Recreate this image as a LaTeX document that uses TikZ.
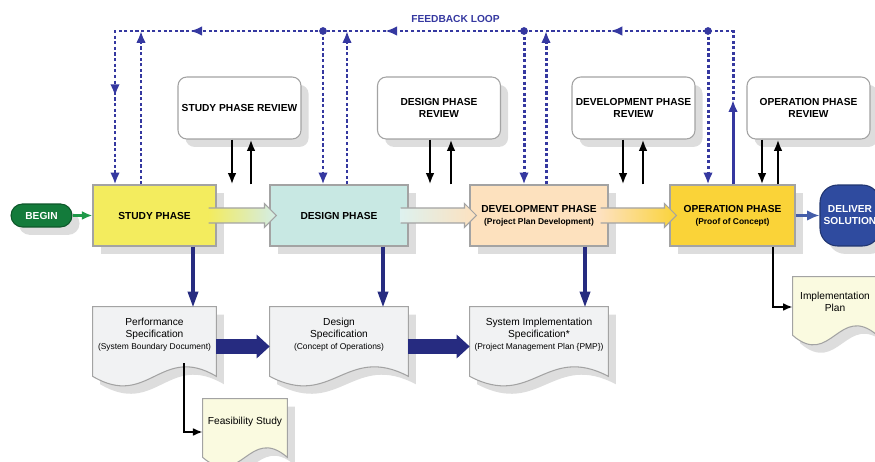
\documentclass[tikz,border=0pt]{standalone}
\usepackage{fontspec}
\setmainfont{Liberation Sans}
\usepackage{tikz}
\usetikzlibrary{
  arrows.meta,
  calc,
  backgrounds,
  shadows,
  decorations.markings
}
\definecolor{StudyYellow}{HTML}{F3EC5E}
\definecolor{DesignCyan}{HTML}{C8E8E3}
\definecolor{DevPeach}{HTML}{FDE1BE}
\definecolor{OpGold}{HTML}{FAD338}
\definecolor{BoxGray}{HTML}{A3A3A3}
\definecolor{ShadowGray}{HTML}{DDDDDD}
\definecolor{DocGray}{HTML}{F1F2F3}
\definecolor{DocYellow}{HTML}{FAFAE0}
\definecolor{LoopBlue}{HTML}{3538A0}
\definecolor{NavyBlue}{HTML}{262B80}
\definecolor{BeginGreen}{HTML}{137B3B}
\definecolor{ArrowGreen}{HTML}{1E9A48}
\definecolor{DeliverBlue}{HTML}{2F4B9F}
\newcommand{\phasefont}{\fontsize{5.8pt}{6.8pt}\selectfont\bfseries}
\newcommand{\notefont}{\fontsize{4.8pt}{6pt}\selectfont\bfseries}
\newcommand{\docfont}{\fontsize{5.8pt}{6.8pt}\selectfont}
\newcommand{\docnotefont}{\fontsize{4.8pt}{6pt}\selectfont}
% wavy sheet behind a document node: #1 node, #2 drop of the edges, #3 path options
\newcommand{\docsheet}[3]{%
  \path[#3]
  (#1.north west) --
  (#1.north east) --
  ($(#1.south east)+(0,#2)$)
  .. controls ($(#1.south east)!0.45!(#1.south west)+(0,#2-33)$)
  and ($(#1.south west)!0.45!(#1.south east)+(0,#2+33)$) ..
  ($(#1.south west)+(0,#2)$) --
  cycle;
}
% shaded block arrow from one phase into the next
\newcommand{\phasearrow}[4]{%
  \shade[left color=#3, right color=#4]
  ($(#1.east)+(-8,-7.5)$) --
  ($(#2.west)+(-5,-7.5)$) --
  ($(#2.west)+(-5,-12)$) --
  ($(#2.west)+(7,0)$) --
  ($(#2.west)+(-5,12)$) --
  ($(#2.west)+(-5,7.5)$) --
  ($(#1.east)+(-8,7.5)$) --
  cycle;
  \draw[BoxGray, line width=0.6pt]
  ($(#1.east)+(-8,-7.5)$) --
  ($(#2.west)+(-5,-7.5)$) --
  ($(#2.west)+(-5,-12)$) --
  ($(#2.west)+(7,0)$) --
  ($(#2.west)+(-5,12)$) --
  ($(#2.west)+(-5,7.5)$) --
  ($(#1.east)+(-8,7.5)$);
}
\tikzset{
  boxshadow/.style={
    drop shadow={
      shadow xshift=4.3pt,
      shadow yshift=-4.5pt,
      fill=ShadowGray,
      opacity=1
    }
  },
  phase/.style={
    draw=BoxGray,
    line width=0.6pt,
    inner sep=0pt,
    minimum height=1.22cm,
    align=center,
    font=\phasefont,
    boxshadow
  },
  review/.style={
    phase,
    fill=white,
    rounded corners=5pt,
    minimum width=2.46cm,
    minimum height=1.24cm
  },
  terminal/.style={
    draw=#1!70!black,
    fill=#1,
    text=white,
    line width=0.6pt,
    inner sep=0pt,
    align=center,
    font=\phasefont,
    boxshadow
  },
  sheet/.style={
    inner sep=0pt,
    align=center,
    font=\docfont
  },
  feedback/.style={
    draw=LoopBlue,
    line width=1.7pt,
    dash pattern=on 1.8pt off 1.4pt
  },
  feedarrow/.style={
    feedback,
    -{Latex[length=6.8pt,width=5.5pt]}
  },
  reviewarrow/.style={
    line width=1.3pt,
    -{Latex[length=6.5pt,width=5pt]}
  },
  docarrow/.style={
    draw=NavyBlue,
    line width=2.3pt,
    -{Triangle[length=8.5pt,width=6.3pt,line width=0pt]}
  },
  specarrow/.style={
    draw=NavyBlue,
    line width=8.5pt,
    -{Triangle[length=7.4pt,width=13.6pt,line width=0pt]}
  },
  branch/.style={
    line width=1.1pt,
    -{Latex[length=5.5pt,width=4.5pt]}
  }
}
\begin{document}
\begin{tikzpicture}[x=0.02cm,y=-0.02cm]

  \useasboundingbox (0,0) rectangle (875,462);

  % phases
  \node[phase, fill=StudyYellow, minimum width=2.46cm] at (154.5,215.5) (study) {STUDY PHASE};
  \node[phase, fill=DesignCyan, minimum width=2.76cm] at (339,215.5) (design) {DESIGN PHASE};
  \node[phase, fill=DevPeach, minimum width=2.76cm] at (539,215.5) (develop) {
    DEVELOPMENT PHASE\\
    {\notefont (Project Plan Development)}
  };
  \node[phase, fill=OpGold, minimum width=2.5cm] at (732.5,215.5) (operation) {
    OPERATION PHASE\\
    {\notefont (Proof of Concept)}
  };

  \node[
    terminal=BeginGreen,
    rounded corners=6.5pt,
    minimum width=1.22cm,
    minimum height=0.46cm
  ] at (41.5,215.5) (begin) {BEGIN};

  \node[
    terminal=DeliverBlue,
    rounded corners=10pt,
    minimum width=1.2cm,
    minimum height=1.22cm
  ] at (850,215.5) (deliver) {DELIVER\\SOLUTION};

  % reviews
  \node[review] at (239.5,108) (studyrev) {STUDY PHASE REVIEW};
  \node[review] at (439,108) (designrev) {DESIGN PHASE\\REVIEW};
  \node[review] at (633.5,108) (developrev) {DEVELOPMENT PHASE\\REVIEW};
  \node[review] at (808.5,108) (operationrev) {OPERATION PHASE\\REVIEW};

  \node[font=\phasefont, text=LoopBlue] at (455.5,19) (looplabel) {FEEDBACK LOOP};

  % documents
  \node[sheet, minimum width=2.46cm, minimum height=1.12cm] at (154.5,335) (perfspec) {
    Performance\\
    Specification\\
    {\docnotefont (System Boundary Document)}
  };
  \node[sheet, minimum width=2.76cm, minimum height=1.12cm] at (339,335) (designspec) {
    Design\\
    Specification\\
    {\docnotefont (Concept of Operations)}
  };
  \node[sheet, minimum width=2.76cm, minimum height=1.12cm] at (539,335) (systemspec) {
    System Implementation\\
    Specification*\\
    {\docnotefont (Project Management Plan \{PMP\})}
  };
  \node[sheet, minimum width=1.68cm, minimum height=0.92cm] at (245,422) (feasibility) {Feasibility Study};
  \node[sheet, minimum width=1.68cm, minimum height=1cm] at (835,302) (implplan) {
    Implementation\\
    Plan
  };

  \begin{scope}[on background layer]
    \docsheet{perfspec}{13}{fill=DocGray, draw=BoxGray, line width=0.6pt, boxshadow}
    \docsheet{designspec}{13}{fill=DocGray, draw=BoxGray, line width=0.6pt, boxshadow}
    \docsheet{systemspec}{13}{fill=DocGray, draw=BoxGray, line width=0.6pt, boxshadow}
    \docsheet{feasibility}{12}{fill=DocYellow, draw=BoxGray, line width=0.6pt, boxshadow}
    \docsheet{implplan}{8}{fill=DocYellow, draw=BoxGray, line width=0.6pt, boxshadow}
  \end{scope}

  % flow between phases
  \phasearrow{study}{design}{StudyYellow}{DesignCyan!80}
  \phasearrow{design}{develop}{DesignCyan!60}{DevPeach}
  \phasearrow{develop}{operation}{DevPeach}{OpGold}

  \draw[ArrowGreen, line width=1.3pt, -{Latex[length=6pt,width=5pt]}]
  (begin.east) -- (study.west);
  \draw[DeliverBlue!90!white, line width=1.8pt, -{Latex[length=7pt,width=6pt]}]
  (operation.east) -- (deliver.west);

  % reviews
  \draw[reviewarrow] (studyrev.south -| 232,0) -- (study.north -| 232,0);
  \draw[reviewarrow] (study.north -| 251,0) -- (studyrev.south -| 251,0);
  \draw[reviewarrow] (designrev.south -| 430,0) -- (design.north -| 430,0);
  \draw[reviewarrow] (design.north -| 451,0) -- (designrev.south -| 451,0);
  \draw[reviewarrow] (developrev.south -| 623,0) -- (develop.north -| 623,0);
  \draw[reviewarrow] (develop.north -| 643,0) -- (developrev.south -| 643,0);
  \draw[reviewarrow] (operationrev.south -| 762,0) -- (operation.north -| 762,0);
  \draw[reviewarrow] (operation.north -| 778,0) -- (operationrev.south -| 778,0);

  % feedback loop
  \coordinate (loopL) at (115,31);
  \coordinate (loopR) at (733,31);
  \coordinate (loopUp) at (733,100);
  \coordinate (tapDesign) at (323,31);
  \coordinate (tapDevelop) at (524,31);
  \coordinate (tapOperation) at (708,31);

  \draw[LoopBlue, line width=1.7pt, -{Latex[length=6.8pt,width=5.5pt]}]
  (operation.north -| loopUp) -- (loopUp);
  \draw[
    feedarrow,
    postaction={decorate},
    decoration={
      markings,
      mark=at position 0.228 with {\arrow{Latex[length=6.8pt,width=5.5pt]}},
      mark=at position 0.496 with {\arrow{Latex[length=6.8pt,width=5.5pt]}},
      mark=at position 0.728 with {\arrow{Latex[length=6.8pt,width=5.5pt]}},
      mark=at position 0.895 with {\arrow{Latex[length=6.8pt,width=5.5pt]}}
    }
  ]
  (loopUp) -- (loopR) -- (loopL) -- (study.north -| loopL);

  \draw[feedarrow] (study.north -| 141,0) -- (loopL -| 141,0);
  \draw[feedarrow] (design.north -| 347,0) -- (loopL -| 347,0);
  \draw[feedarrow] (develop.north -| 546,0) -- (loopL -| 546,0);

  \draw[feedarrow] (tapDesign) -- (design.north -| tapDesign);
  \draw[feedarrow] (tapDevelop) -- (develop.north -| tapDevelop);
  \draw[feedarrow] (tapOperation) -- (operation.north -| tapOperation);

  \foreach \tap in {tapDesign,tapDevelop,tapOperation} {
    \fill[LoopBlue] (\tap) circle (2.2pt);
  }

  % deliverables
  \draw[docarrow] (study.south -| 193,0) -- (perfspec.north -| 193,0);
  \draw[docarrow] (design.south -| 383,0) -- (designspec.north -| 383,0);
  \draw[docarrow] (develop.south -| 585,0) -- (systemspec.north -| 585,0);

  \draw[specarrow] (perfspec.east |- 0,346.5) -- (designspec.west |- 0,346.5);
  \draw[specarrow] (designspec.east |- 0,346.5) -- (systemspec.west |- 0,346.5);

  \draw[branch] (perfspec.south -| 184,0) |- ([yshift=-0.2cm]feasibility.west);
  \draw[branch] (operation.south -| 773,0) |- ([yshift=-0.1cm]implplan.west);

\end{tikzpicture}
\end{document}
